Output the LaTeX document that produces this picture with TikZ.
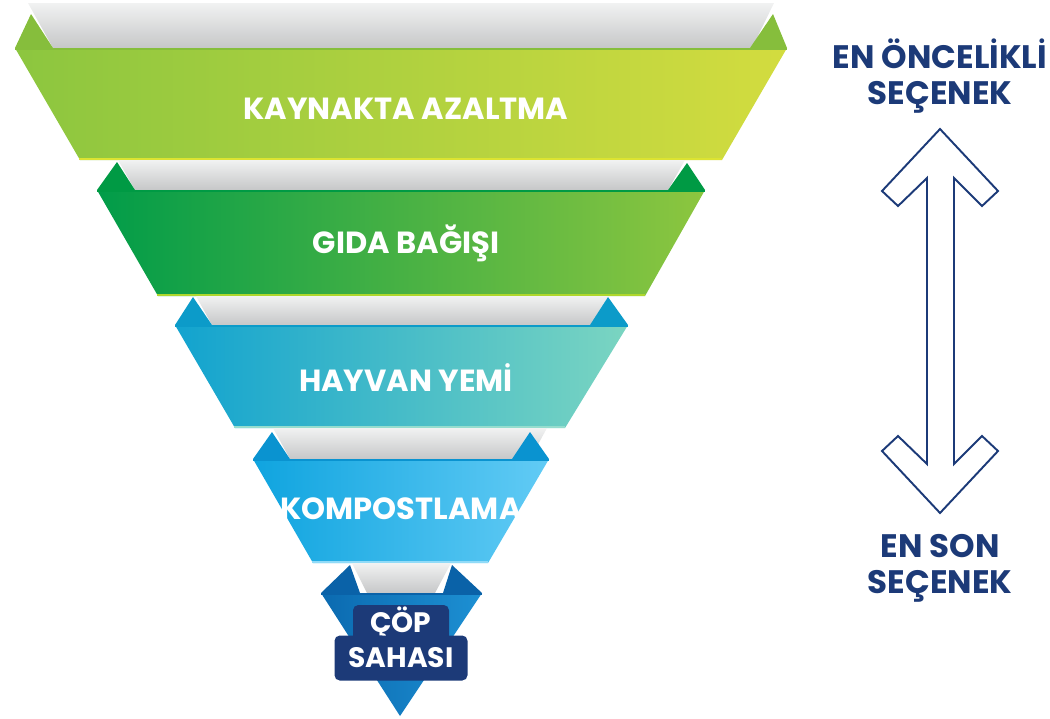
\documentclass[tikz,border=0pt]{standalone}
\usepackage{fontspec}
\setmainfont{Poppins}
\definecolor{lacivert}{HTML}{1C3A78}
\definecolor{gri1}{HTML}{F1F2F2}
\definecolor{gri2}{HTML}{C6C7C8}
\definecolor{ye1}{HTML}{8CC63F}
\definecolor{ye2}{HTML}{D3DC3F}
\definecolor{ye3}{HTML}{86BE3C}
\definecolor{ys1}{HTML}{019C49}
\definecolor{ys2}{HTML}{8DC63F}
\definecolor{ys3}{HTML}{009A44}
\definecolor{tu1}{HTML}{12A3CF}
\definecolor{tu2}{HTML}{7BD5C1}
\definecolor{tu3}{HTML}{0C9BC9}
\definecolor{ma1}{HTML}{0FA4DF}
\definecolor{ma2}{HTML}{62CBF5}
\definecolor{ma3}{HTML}{0A93D0}
\definecolor{ko1}{HTML}{0B6AB0}
\definecolor{ko2}{HTML}{1D90D3}
\definecolor{ko3}{HTML}{0A62A8}
\begin{document}
\begin{tikzpicture}[x=0.02cm, y=-0.02cm,
  perde/.style={top color=gri1, bottom color=gri2},
  etiket/.style={text=white, font=\bfseries\fontsize{17.4}{19}\selectfont},
  kutu/.style={fill=lacivert, rounded corners=3pt, text=white, inner sep=0pt,
    font=\bfseries\fontsize{16}{18}\selectfont},
  yan/.style={text=lacivert, align=center, font=\bfseries\fontsize{18.5}{20.5}\selectfont}]
  \useasboundingbox (0,0) rectangle (1050,718);

  % Katman 1
  \shade[perde] (28,3) -- (774,3) -- (752,48) -- (53,48) -- cycle;
  \fill[ye3] (31,14) -- (15,48) -- (53,48) -- cycle;
  \fill[ye3] (773,14) -- (750,48) -- (787,48) -- cycle;
  \shade[left color=ye1, right color=ye2] (15,48) -- (787,48) -- (722,160) -- (80,160) -- cycle;
  \draw[ye3, line width=1.2pt] (15,49) -- (787,49);
  \draw[ye2!80!yellow, line width=1.2pt] (79,159) -- (722,159);
  \node[etiket] (t1) at (406,109) {KAYNAKTA AZALTMA};

  % Katman 2
  \shade[perde] (118,160) -- (685,160) -- (668,190) -- (135,190) -- cycle;
  \fill[ys3] (117,162) -- (97,190) -- (135,190) -- cycle;
  \fill[ys3] (687,163) -- (668,190) -- (705,190) -- cycle;
  \shade[left color=ys1, right color=ys2] (97,190) -- (705,190) -- (645,296) -- (158,296) -- cycle;
  \draw[ys3, line width=1.2pt] (97,191) -- (705,191);
  \draw[ys2!70!yellow, line width=1.2pt] (157,295) -- (645,295);
  \node[etiket] (t2) at (406,243) {GIDA BAĞIŞI};

  % Katman 3
  \shade[perde] (196,296) -- (608,296) -- (592,325) -- (212,325) -- cycle;
  \fill[tu3] (193,297) -- (175,325) -- (212,325) -- cycle;
  \fill[tu3] (608,297) -- (590,325) -- (628,325) -- cycle;
  \shade[left color=tu1, right color=tu2] (175,325) -- (628,325) -- (565,428) -- (235,428) -- cycle;
  \draw[tu3, line width=1.2pt] (175,326) -- (628,326);
  \draw[tu2!80!white, line width=1.2pt] (234,427) -- (565,427);
  \node[etiket] (t3) at (406,378) {HAYVAN YEMİ};

  % Katman 4
  \shade[perde] (273,428) -- (547,428) -- (530,459) -- (290,459) -- cycle;
  \fill[ma3] (272,432) -- (253,459) -- (290,459) -- cycle;
  \fill[ma3] (530,432) -- (512,459) -- (549,459) -- cycle;
  \shade[left color=ma1, right color=ma2] (253,459) -- (549,459) -- (488,563) -- (313,563) -- cycle;
  \draw[ma3, line width=1.2pt] (253,460) -- (549,460);
  \draw[ma2!70!white, line width=1.2pt] (312,562) -- (488,562);
  \node[etiket] (t4) at (401,509) {KOMPOSTLAMA};

  % Katman 5
  \shade[perde] (352,563) -- (451,563) -- (435,593) -- (367,593) -- cycle;
  \fill[ko3] (350,565) -- (321,593) -- (360,593) -- cycle;
  \fill[ko3] (452,565) -- (443,593) -- (482,593) -- cycle;
  \shade[left color=ko1, right color=ko2] (321,593) -- (482,593) -- (400,716) -- cycle;
  \draw[ko3, line width=1.2pt] (321,594) -- (482,594);
  \node[kutu, minimum width=96*0.02cm, minimum height=36*0.02cm] (t5a) at (401,623) {ÇÖP};
  \node[kutu, minimum width=133*0.02cm, minimum height=45*0.02cm] (t5b) at (401,658) {SAHASI};

  % Ok ve yan yazilar
  \node[yan] (ust) at (940,76) {EN ÖNCELİKLİ\\SEÇENEK};
  \node[yan] (alt) at (940,568) {EN SON\\SEÇENEK};
  \draw[lacivert, line width=1.1pt, line join=miter]
    (940,129) -- (998,191) -- (982,206) -- (954,178) -- (954,464) -- (982,436)
    -- (998,451) -- (940,513) -- (882,451) -- (898,436) -- (927,464) -- (927,178)
    -- (898,206) -- (882,191) -- cycle;
\end{tikzpicture}
\end{document}
